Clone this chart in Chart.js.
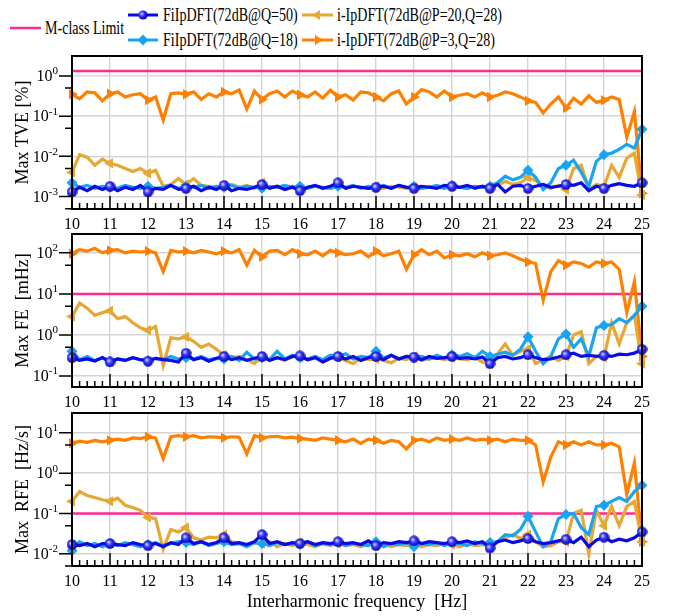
<!DOCTYPE html>
<html>
<head>
<meta charset="utf-8">
<script src="https://cdn.jsdelivr.net/npm/chart.js@4.4.1/dist/chart.umd.min.js"></script>
<style>
  body { margin: 0; background: #fff; }
  #wrap { position: relative; width: 681px; height: 616px; overflow: hidden; font-family: "Liberation Serif", "Times New Roman", serif; }
  #wrap canvas { position: absolute; left: 0; }
  .icon { position: absolute; }
  .lt { position: absolute; font-size: 18px; line-height: 18px; white-space: nowrap; color: #000;
        transform: scaleX(0.78); transform-origin: 0 0; }
</style>
</head>
<body>
<div id="wrap">
  <svg class="icon" style="left:10px;top:22px" width="31" height="12">
    <line x1="0" y1="6" x2="31" y2="6" stroke="#ff2a92" stroke-width="2.5"/>
  </svg>
  <span class="lt" style="left:45px;top:19px">M-class Limit</span>

  <svg class="icon" style="left:128px;top:9px" width="30" height="12">
    <defs><radialGradient id="gb" cx="0.38" cy="0.38" r="0.6">
      <stop offset="0" stop-color="#d8d8ff"/><stop offset="0.4" stop-color="#3c3cff"/><stop offset="1" stop-color="#0000a8"/>
    </radialGradient></defs>
    <line x1="0" y1="6" x2="30" y2="6" stroke="#0a0ae6" stroke-width="3"/>
    <circle cx="15" cy="6" r="4.6" fill="url(#gb)"/>
  </svg>
  <span class="lt" style="left:163px;top:6px">FiIpDFT(72dB@Q=50)</span>

  <svg class="icon" style="left:128px;top:34px" width="30" height="12">
    <line x1="0" y1="6" x2="30" y2="6" stroke="#18a4f0" stroke-width="3"/>
    <polygon points="15,0.5 20.5,6 15,11.5 9.5,6" fill="#18a4f0"/>
  </svg>
  <span class="lt" style="left:163px;top:31px">FiIpDFT(72dB@Q=18)</span>

  <svg class="icon" style="left:302px;top:9px" width="31" height="12">
    <line x1="0" y1="6" x2="31" y2="6" stroke="#e6a734" stroke-width="3"/>
    <polygon points="10,6 18,1 18,11" fill="#e6a734"/>
  </svg>
  <span class="lt" style="left:337px;top:6px">i-IpDFT(72dB@P=20,Q=28)</span>

  <svg class="icon" style="left:302px;top:34px" width="31" height="12">
    <line x1="0" y1="6" x2="31" y2="6" stroke="#ff8000" stroke-width="3"/>
    <polygon points="21,6 13,1 13,11" fill="#ff8000"/>
  </svg>
  <span class="lt" style="left:337px;top:31px">i-IpDFT(72dB@P=3,Q=28)</span>

  <canvas id="tveChart" width="681" height="185" style="top:50px"></canvas>
  <canvas id="feChart" width="681" height="185" style="top:228px"></canvas>
  <canvas id="rfeChart" width="681" height="209" style="top:407px"></canvas>
</div>

<script>
// interharmonic frequency (Hz)
const freq = [
  10, 10.2, 10.4, 10.6, 10.8, 11, 11.2, 11.4, 11.6, 11.8,
  12, 12.2, 12.4, 12.6, 12.8, 13, 13.2, 13.4, 13.6, 13.8,
  14, 14.2, 14.4, 14.6, 14.8, 15, 15.2, 15.4, 15.6, 15.8,
  16, 16.2, 16.4, 16.6, 16.8, 17, 17.2, 17.4, 17.6, 17.8,
  18, 18.2, 18.4, 18.6, 18.8, 19, 19.2, 19.4, 19.6, 19.8,
  20, 20.2, 20.4, 20.6, 20.8, 21, 21.2, 21.4, 21.6, 21.8,
  22, 22.2, 22.4, 22.6, 22.8, 23, 23.2, 23.4, 23.6, 23.8,
  24, 24.2, 24.4, 24.6, 24.8, 25
];

// Max TVE [%]
const tveQ50 = [
  0.0013, 0.0017, 0.0014, 0.0018, 0.0015, 0.0018, 0.0014, 0.0017, 0.0015, 0.0019,
  0.0013, 0.0016, 0.0015, 0.0019, 0.0015, 0.0016, 0.0018, 0.0014, 0.0017, 0.0015,
  0.0019, 0.0014, 0.0016, 0.0015, 0.0017, 0.0020, 0.0016, 0.0018, 0.0015, 0.0017,
  0.0014, 0.0017, 0.0019, 0.0016, 0.0018, 0.0022, 0.0016, 0.0018, 0.0017, 0.0016,
  0.0017, 0.0018, 0.0016, 0.0019, 0.0017, 0.0016, 0.0018, 0.0017, 0.0016, 0.0019,
  0.0018, 0.0017, 0.0019, 0.0016, 0.0018, 0.0016, 0.0020, 0.0013, 0.0018, 0.0019,
  0.0016, 0.0018, 0.0020, 0.0017, 0.0018, 0.0020, 0.0019, 0.0022, 0.0014, 0.0018,
  0.0016, 0.0019, 0.0021, 0.0019, 0.0018, 0.0022
];
const tveQ18 = [
  0.0022, 0.0017, 0.0019, 0.0016, 0.0018, 0.0017, 0.0016, 0.0019, 0.0017, 0.0016,
  0.0018, 0.0016, 0.0017, 0.0019, 0.0016, 0.0018, 0.0017, 0.0019, 0.0016, 0.0018,
  0.0017, 0.0019, 0.0016, 0.0018, 0.0017, 0.0016, 0.0018, 0.0017, 0.0019, 0.0017,
  0.0018, 0.0016, 0.0018, 0.0017, 0.0016, 0.0018, 0.0017, 0.0019, 0.0016, 0.0018,
  0.0017, 0.0019, 0.0016, 0.0019, 0.0017, 0.0018, 0.0016, 0.0017, 0.0019, 0.0016,
  0.0019, 0.0017, 0.0016, 0.0018, 0.0017, 0.0018, 0.0022, 0.0032, 0.0026, 0.0030,
  0.0045, 0.0030, 0.0015, 0.0022, 0.0050, 0.0060, 0.0080, 0.0040, 0.0018, 0.0075,
  0.011, 0.012, 0.015, 0.020, 0.016, 0.047
];
const tveP20 = [
  0.0040, 0.0110, 0.0095, 0.0060, 0.0085, 0.0067, 0.0060, 0.0050, 0.0042, 0.0050,
  0.0038, 0.0045, 0.0018, 0.0020, 0.0028, 0.0020, 0.0028, 0.0019, 0.0018, 0.0017,
  0.0019, 0.0020, 0.0017, 0.0019, 0.0016, 0.0022, 0.0017, 0.0018, 0.0016, 0.0018,
  0.0015, 0.0017, 0.0018, 0.0016, 0.0017, 0.0020, 0.0016, 0.0018, 0.0017, 0.0016,
  0.0018, 0.0016, 0.0018, 0.0017, 0.0016, 0.0017, 0.0016, 0.0018, 0.0017, 0.0016,
  0.0018, 0.0017, 0.0016, 0.0018, 0.0017, 0.0017, 0.0019, 0.0024, 0.0020, 0.0022,
  0.0030, 0.0025, 0.0018, 0.0016, 0.0019, 0.0015, 0.0050, 0.0060, 0.0015, 0.0020,
  0.0018, 0.0060, 0.0030, 0.0090, 0.0120, 0.0011
];
const tveP3 = [
  0.35, 0.27, 0.40, 0.38, 0.24, 0.36, 0.40, 0.30, 0.34, 0.36,
  0.25, 0.30, 0.08, 0.36, 0.38, 0.35, 0.40, 0.26, 0.36, 0.30,
  0.40, 0.36, 0.45, 0.15, 0.42, 0.26, 0.36, 0.42, 0.30, 0.42,
  0.34, 0.30, 0.40, 0.28, 0.44, 0.30, 0.34, 0.25, 0.40, 0.38,
  0.30, 0.24, 0.36, 0.42, 0.20, 0.30, 0.46, 0.40, 0.30, 0.42,
  0.30, 0.33, 0.36, 0.30, 0.38, 0.30, 0.33, 0.40, 0.36, 0.30,
  0.24, 0.22, 0.12, 0.20, 0.30, 0.16, 0.28, 0.20, 0.32, 0.22,
  0.25, 0.30, 0.26, 0.03, 0.13, 0.0012
];

// Max FE [mHz]
const feQ50 = [
  0.28, 0.24, 0.26, 0.23, 0.28, 0.22, 0.26, 0.24, 0.28, 0.25,
  0.23, 0.27, 0.25, 0.24, 0.22, 0.36, 0.25, 0.28, 0.23, 0.27,
  0.30, 0.25, 0.28, 0.24, 0.27, 0.30, 0.24, 0.28, 0.25, 0.30,
  0.31, 0.25, 0.28, 0.22, 0.27, 0.30, 0.26, 0.30, 0.24, 0.28,
  0.30, 0.25, 0.32, 0.26, 0.30, 0.29, 0.25, 0.30, 0.27, 0.28,
  0.30, 0.27, 0.28, 0.26, 0.29, 0.20, 0.28, 0.30, 0.26, 0.28,
  0.33, 0.28, 0.25, 0.26, 0.29, 0.33, 0.36, 0.30, 0.32, 0.30,
  0.32, 0.30, 0.34, 0.33, 0.36, 0.45
];
const feQ18 = [
  0.40, 0.25, 0.30, 0.24, 0.28, 0.22, 0.26, 0.24, 0.28, 0.25,
  0.24, 0.27, 0.25, 0.30, 0.26, 0.28, 0.26, 0.30, 0.25, 0.27,
  0.26, 0.30, 0.24, 0.38, 0.26, 0.28, 0.25, 0.40, 0.26, 0.32,
  0.28, 0.26, 0.30, 0.25, 0.32, 0.30, 0.35, 0.26, 0.30, 0.28,
  0.40, 0.28, 0.32, 0.26, 0.30, 0.28, 0.30, 0.26, 0.32, 0.27,
  0.33, 0.30, 0.35, 0.28, 0.40, 0.30, 0.34, 0.38, 0.32, 0.45,
  0.90, 0.40, 0.20, 0.30, 0.80, 1.05, 0.50, 0.80, 0.30, 1.50,
  1.70, 1.80, 2.50, 2.00, 3.00, 5.0
];
const feP20 = [
  2.8, 6.0, 4.5, 3.0, 3.5, 3.9, 2.5, 2.8, 2.0, 1.5,
  1.3, 1.6, 0.18, 0.85, 0.80, 0.90, 0.70, 0.50, 0.60, 0.45,
  0.32, 0.28, 0.30, 0.25, 0.20, 0.30, 0.26, 0.28, 0.24, 0.30,
  0.28, 0.25, 0.30, 0.22, 0.27, 0.28, 0.24, 0.20, 0.28, 0.25,
  0.26, 0.24, 0.21, 0.27, 0.25, 0.30, 0.24, 0.26, 0.28, 0.25,
  0.28, 0.26, 0.25, 0.28, 0.22, 0.20, 0.35, 0.60, 0.32, 0.40,
  0.45, 0.20, 0.25, 0.30, 0.24, 0.30, 1.00, 1.20, 0.20, 0.30,
  0.28, 2.00, 0.60, 2.00, 3.00, 0.20
];
const feP3 = [
  95, 120, 110, 130, 100, 115, 120, 100, 110, 105,
  110, 100, 35, 115, 105, 110, 100, 115, 105, 95,
  110, 100, 120, 50, 115, 80, 110, 115, 90, 120,
  95, 90, 110, 85, 115, 100, 90, 95, 110, 80,
  110, 85, 95, 110, 40, 90, 120, 90, 110, 75,
  90, 85, 95, 80, 100, 85, 90, 100, 85, 70,
  60, 55, 7, 35, 65, 50, 60, 55, 45, 60,
  55, 60, 40, 3.5, 20, 0.3
];

// Max RFE [Hz/s]
const rfeQ50 = [
  0.017, 0.016, 0.018, 0.015, 0.018, 0.018, 0.017, 0.016, 0.019, 0.017,
  0.016, 0.018, 0.015, 0.019, 0.017, 0.025, 0.018, 0.020, 0.017, 0.019,
  0.025, 0.018, 0.019, 0.017, 0.020, 0.030, 0.018, 0.020, 0.017, 0.019,
  0.018, 0.020, 0.017, 0.019, 0.018, 0.020, 0.018, 0.019, 0.017, 0.021,
  0.016, 0.019, 0.018, 0.020, 0.019, 0.021, 0.018, 0.020, 0.019, 0.018,
  0.020, 0.019, 0.021, 0.018, 0.020, 0.014, 0.020, 0.022, 0.019, 0.021,
  0.024, 0.020, 0.018, 0.019, 0.021, 0.023, 0.019, 0.026, 0.015, 0.022,
  0.026, 0.020, 0.023, 0.021, 0.025, 0.035
];
const rfeQ18 = [
  0.012, 0.020, 0.016, 0.018, 0.015, 0.018, 0.016, 0.019, 0.017, 0.015,
  0.017, 0.019, 0.016, 0.018, 0.020, 0.019, 0.017, 0.020, 0.016, 0.018,
  0.020, 0.017, 0.018, 0.015, 0.019, 0.018, 0.016, 0.019, 0.017, 0.018,
  0.017, 0.020, 0.016, 0.018, 0.017, 0.019, 0.016, 0.018, 0.017, 0.016,
  0.020, 0.015, 0.018, 0.017, 0.019, 0.015, 0.018, 0.017, 0.019, 0.016,
  0.019, 0.018, 0.016, 0.020, 0.018, 0.019, 0.020, 0.030, 0.028, 0.040,
  0.085, 0.035, 0.015, 0.020, 0.075, 0.094, 0.10, 0.045, 0.030, 0.15,
  0.16, 0.20, 0.25, 0.20, 0.35, 0.50
];
const rfeP20 = [
  0.20, 0.35, 0.28, 0.25, 0.22, 0.20, 0.24, 0.16, 0.14, 0.12,
  0.08, 0.075, 0.013, 0.040, 0.035, 0.045, 0.025, 0.022, 0.026, 0.025,
  0.030, 0.020, 0.018, 0.016, 0.019, 0.018, 0.020, 0.015, 0.018, 0.016,
  0.019, 0.017, 0.015, 0.018, 0.016, 0.018, 0.016, 0.017, 0.015, 0.018,
  0.016, 0.018, 0.015, 0.017, 0.016, 0.018, 0.015, 0.017, 0.016, 0.018,
  0.017, 0.015, 0.018, 0.016, 0.017, 0.016, 0.020, 0.025, 0.030, 0.024,
  0.030, 0.020, 0.015, 0.016, 0.020, 0.020, 0.10, 0.12, 0.010, 0.12,
  0.05, 0.15, 0.05, 0.15, 0.20, 0.02
];
const rfeP3 = [
  5.5, 6.2, 5.8, 6.5, 6.0, 6.5, 7.0, 6.5, 7.5, 7.2,
  8.0, 7.5, 2.3, 8.0, 8.5, 8.0, 8.5, 7.5, 8.0, 7.8,
  7.5, 8.0, 7.8, 3.0, 8.5, 7.5, 8.0, 8.2, 7.5, 7.8,
  7.2, 7.0, 6.5, 7.5, 7.0, 6.5, 6.0, 7.0, 5.5, 7.0,
  6.5, 5.5, 6.5, 6.0, 4.0, 6.5, 7.0, 6.0, 7.5, 6.5,
  7.0, 6.5, 7.5, 6.5, 7.0, 6.5, 7.0, 6.0, 7.0, 6.5,
  6.5, 5.0, 0.6, 2.5, 6.0, 5.0, 6.0, 5.0, 6.0, 5.0,
  5.0, 5.5, 4.5, 0.3, 1.8, 0.02
];

// M-class limits
const tveLimit = 1.33;
const feLimit = 10;
const rfeLimit = 0.1;

// decade ticks for each panel
const tveDecades = [1e-3, 1e-2, 1e-1, 1];
const feDecades = [1e-1, 1, 10, 100];
const rfeDecades = [1e-2, 1e-1, 1, 10];

const FONT = '"Liberation Serif", "Times New Roman", serif';
const COLORS = { q50: '#0a0ae6', q18: '#18a4f0', p20: '#e6a734', p3: '#ff8000', limit: '#ff2a92' };

// shaded ball marker for the Q=50 series
function ballMarker() {
  const c = document.createElement('canvas');
  c.width = 11; c.height = 11;
  const g = c.getContext('2d');
  const grad = g.createRadialGradient(4, 4, 0.4, 5.5, 5.5, 5.6);
  grad.addColorStop(0, '#d8d8ff');
  grad.addColorStop(0.4, '#3c3cff');
  grad.addColorStop(1, '#0000a8');
  g.fillStyle = grad;
  g.beginPath();
  g.arc(5.5, 5.5, 5.2, 0, Math.PI * 2);
  g.fill();
  return c;
}
const ball = ballMarker();

// frame, inward x ticks, outward y ticks and 10^n labels
const axisDecor = {
  id: 'axisDecor',
  afterDraw(chart, args, opts) {
    const { ctx, chartArea: a, scales: { x, y } } = chart;
    ctx.save();
    ctx.strokeStyle = '#000';
    ctx.lineWidth = 1.5;
    ctx.beginPath();
    for (let k = 50; k <= 125; k++) {
      const px = x.getPixelForValue(k / 5);
      const len = k % 5 === 0 ? 13 : 6;
      ctx.moveTo(px, a.bottom);
      ctx.lineTo(px, a.bottom - len);
    }
    const minors = [opts.decades[0] / 2].concat(opts.decades.map(d => d * 5));
    minors.forEach(v => {
      if (v < y.min * 0.98 || v > y.max) return;
      const py = y.getPixelForValue(v);
      ctx.moveTo(a.left - 7, py);
      ctx.lineTo(a.left, py);
    });
    opts.decades.forEach(d => {
      const py = y.getPixelForValue(d);
      ctx.moveTo(a.left - 13, py);
      ctx.lineTo(a.left, py);
    });
    ctx.stroke();

    ctx.lineWidth = 2;
    ctx.strokeRect(a.left, a.top, a.right - a.left, a.bottom - a.top);

    ctx.fillStyle = '#000';
    opts.decades.forEach(d => {
      const py = y.getPixelForValue(d);
      const exp = String(Math.round(Math.log10(d)));
      ctx.font = '11px ' + FONT;
      const ew = ctx.measureText(exp).width;
      ctx.textAlign = 'right';
      ctx.textBaseline = 'top';
      ctx.fillText(exp, a.left - 14, py - 10);
      ctx.font = '16px ' + FONT;
      ctx.textBaseline = 'middle';
      ctx.fillText('10', a.left - 14 - ew, py + 1);
    });
    ctx.restore();
  }
};

function makePanel(el, p) {
  const isLast = !!p.xTitle;
  const pts = vals => freq.map((f, i) => ({ x: f, y: vals[i] }));
  const marker = r => ctx => Number.isInteger(freq[ctx.dataIndex]) ? r : 0;
  const base = { borderWidth: 3.2, tension: 0, fill: false, pointBorderWidth: 0, clip: 6 };

  new Chart(document.getElementById(el), {
    type: 'line',
    data: {
      datasets: [
        Object.assign({}, base, { data: pts(p.q50), borderColor: COLORS.q50, backgroundColor: COLORS.q50,
          pointStyle: ball, pointRadius: marker(5) }),
        Object.assign({}, base, { data: pts(p.q18), borderColor: COLORS.q18, backgroundColor: COLORS.q18,
          pointStyle: 'rectRot', pointRadius: marker(5.5) }),
        Object.assign({}, base, { data: pts(p.p20), borderColor: COLORS.p20, backgroundColor: COLORS.p20,
          pointStyle: 'triangle', pointRotation: -90, pointRadius: marker(6) }),
        Object.assign({}, base, { data: pts(p.p3), borderColor: COLORS.p3, backgroundColor: COLORS.p3,
          pointStyle: 'triangle', pointRotation: 90, pointRadius: marker(6) }),
        Object.assign({}, base, { data: [{ x: freq[0], y: p.limit }, { x: freq[freq.length - 1], y: p.limit }],
          borderColor: COLORS.limit, borderWidth: 2.5, pointRadius: 0 })
      ]
    },
    options: {
      responsive: false,
      animation: false,
      devicePixelRatio: 1,
      events: [],
      layout: { padding: { top: 6, right: 39, bottom: isLast ? 0 : 2, left: 0 } },
      plugins: {
        legend: { display: false },
        tooltip: { enabled: false },
        axisDecor: { decades: p.decades }
      },
      scales: {
        x: {
          type: 'linear',
          min: 10,
          max: 25,
          afterFit: s => { s.height = isLast ? 50 : 24; },
          ticks: { stepSize: 1, color: '#000', font: { family: FONT, size: 16 }, padding: 6, maxRotation: 0, autoSkip: false },
          grid: { color: '#d4d4d4', lineWidth: 1.4, drawTicks: false },
          border: { display: false },
          title: { display: isLast, text: p.xTitle || '', color: '#000',
            font: { family: FONT, size: 18 }, padding: { top: 0, bottom: 3 } }
        },
        y: {
          type: 'logarithmic',
          min: p.yMin,
          max: p.yMax,
          afterFit: s => { s.width = 72; },
          afterBuildTicks: s => { s.ticks = p.decades.map(v => ({ value: v })); },
          ticks: { display: false },
          grid: { color: '#d4d4d4', lineWidth: 1.4, drawTicks: false },
          border: { display: false },
          title: { display: true, text: p.yTitle, color: '#000',
            font: { family: FONT, size: 18 }, padding: { top: 12, bottom: 0 } }
        }
      }
    },
    plugins: [axisDecor]
  });
}

makePanel('tveChart', { q50: tveQ50, q18: tveQ18, p20: tveP20, p3: tveP3, limit: tveLimit,
  decades: tveDecades, yMin: 4.9e-4, yMax: 3.13, yTitle: 'Max TVE [%]' });
makePanel('feChart', { q50: feQ50, q18: feQ18, p20: feP20, p3: feP3, limit: feLimit,
  decades: feDecades, yMin: 0.054, yMax: 288, yTitle: 'Max FE  [mHz]' });
makePanel('rfeChart', { q50: rfeQ50, q18: rfeQ18, p20: rfeP20, p3: rfeP3, limit: rfeLimit,
  decades: rfeDecades, yMin: 0.005, yMax: 31, yTitle: 'Max  RFE  [Hz/s]',
  xTitle: 'Interharmonic frequency  [Hz]' });
</script>
</body>
</html>
